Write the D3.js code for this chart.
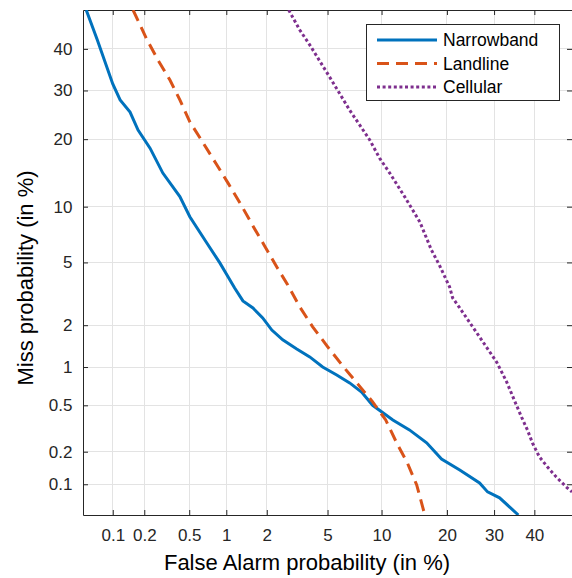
<!DOCTYPE html>
<html>
<head>
<meta charset="utf-8">
<script src="https://cdn.jsdelivr.net/npm/d3@7"></script>
<style>
  body { margin: 0; background: #fff; }
  svg text { font-family: "Liberation Sans", Arial, Helvetica, sans-serif; }
</style>
</head>
<body>
<div id="chart"></div>
<script>

// tick labels (both axes use the same percentages)
var tickValues = [0.1, 0.2, 0.5, 1, 2, 5, 10, 20, 30, 40];
var seriesNames = ["Narrowband", "Landline", "Cellular"];

// values, in %
var narrowFA   = [0.054, 0.070, 0.10, 0.118, 0.147, 0.175, 0.226, 0.295, 0.416, 0.506, 0.70, 0.89, 1.01, 1.16, 1.34, 1.59, 1.87, 2.17, 2.58, 3.20, 3.88, 4.67, 5.67, 6.73, 7.84, 8.99, 11.4, 13.7, 16.4, 19.0, 22.5, 26.7, 28.5, 31.3, 35.9];
var narrowMiss = [50, 42.3, 31.5, 27.9, 25.3, 21.7, 18.4, 14.4, 11.2, 8.9, 6.45, 4.97, 4.22, 3.5, 2.9, 2.61, 2.24, 1.85, 1.58, 1.36, 1.19, 1.00, 0.87, 0.755, 0.64, 0.50, 0.378, 0.311, 0.24, 0.172, 0.136, 0.103, 0.0845, 0.074, 0.05];

var landFA   = [0.157, 0.212, 0.267, 0.341, 0.416, 0.506, 0.637, 0.827, 1.03, 1.31, 1.59, 1.93, 2.35, 2.79, 3.35, 4.05, 5.01, 6.14, 7.46, 8.99, 10.5, 11.9, 13.4, 14.8, 16.1];
var landMiss = [50, 42.3, 37.2, 32.4, 27.9, 23.3, 19.7, 15.9, 13.0, 10.1, 7.97, 6.21, 4.70, 3.66, 2.65, 1.95, 1.41, 1.02, 0.742, 0.533, 0.378, 0.24, 0.158, 0.0986, 0.05];

var cellFA   = [2.83, 3.35, 3.88, 5.15, 6.73, 7.65, 8.66, 9.78, 11.0, 13.0, 15.3, 17.2, 18.6, 20.5, 21.1, 22.5, 24.5, 28.2, 30.6, 33.0, 34.9, 36.7, 38.2, 39.5, 41.3, 43.4, 45.8, 48.5, 50];
var cellMiss = [50, 44.8, 41.0, 33.1, 25.7, 22.7, 19.9, 16.7, 14.4, 11.2, 8.36, 5.90, 4.83, 3.56, 3.03, 2.61, 2.10, 1.41, 1.09, 0.77, 0.55, 0.40, 0.311, 0.24, 0.18, 0.146, 0.117, 0.094, 0.0845];

// normal deviate (probit) for the DET axes - Acklam's approximation
function probit(p) {
  var a = [-39.69683028665376, 220.9460984245205, -275.9285104469687, 138.3577518672690, -30.66479806614716, 2.506628277459239];
  var b = [-54.47609879822406, 161.5858368580409, -155.6989798598866, 66.80131188771972, -13.28068155288572];
  var c = [-0.007784894002430293, -0.3223964580411365, -2.400758277161838, -2.549732539343734, 4.374664141464968, 2.938163982698783];
  var d = [0.007784695709041462, 0.3224671290700398, 2.445134137142996, 3.754408661907416];
  var q, r;
  if (p < 0.02425) {
    q = Math.sqrt(-2 * Math.log(p));
    return (((((c[0]*q+c[1])*q+c[2])*q+c[3])*q+c[4])*q+c[5]) / ((((d[0]*q+d[1])*q+d[2])*q+d[3])*q+1);
  } else if (p > 1 - 0.02425) {
    q = Math.sqrt(-2 * Math.log(1 - p));
    return -(((((c[0]*q+c[1])*q+c[2])*q+c[3])*q+c[4])*q+c[5]) / ((((d[0]*q+d[1])*q+d[2])*q+d[3])*q+1);
  }
  q = p - 0.5; r = q * q;
  return (((((a[0]*r+a[1])*r+a[2])*r+a[3])*r+a[4])*r+a[5])*q / (((((b[0]*r+b[1])*r+b[2])*r+b[3])*r+b[4])*r+1);
}

var W = 572, H = 578;
var margin = {left: 83, right: 0, top: 10, bottom: 63};
var width = W - margin.left - margin.right;
var height = H - margin.top - margin.bottom;

var axisColor = "#262626";
var colors = ["#0072BD", "#D95319", "#7E2F8E"];
var dashes = [null, "12,7", "3,2.6"];

// scales work in probit units
var xScale = d3.scaleLinear().domain([probit(0.0005), probit(0.5)]).range([0, width]);
var yScale = d3.scaleLinear().domain([probit(0.0005), probit(0.5)]).range([height, 0]);

var svg = d3.select("#chart").append("svg")
  .attr("width", W)
  .attr("height", H)
  .append("g")
  .attr("transform", "translate(" + margin.left + "," + margin.top + ")");

var tickPos = tickValues.map(function(v) { return probit(v / 100); });
var fmt = function(d, i) { return tickValues[i]; };

// grid
svg.append("g").selectAll("line.gx").data(tickPos).enter().append("line")
  .attr("x1", function(d) { return xScale(d); }).attr("x2", function(d) { return xScale(d); })
  .attr("y1", 0).attr("y2", height)
  .attr("stroke", "#e3e3e3").attr("stroke-width", 1).attr("shape-rendering", "crispEdges");
svg.append("g").selectAll("line.gy").data(tickPos).enter().append("line")
  .attr("y1", function(d) { return yScale(d); }).attr("y2", function(d) { return yScale(d); })
  .attr("x1", 0).attr("x2", width)
  .attr("stroke", "#e3e3e3").attr("stroke-width", 1).attr("shape-rendering", "crispEdges");

// axes
var xAxis = d3.axisBottom(xScale).tickValues(tickPos).tickFormat(fmt).tickSizeInner(-5).tickSizeOuter(0).tickPadding(14);
var yAxis = d3.axisLeft(yScale).tickValues(tickPos).tickFormat(fmt).tickSizeInner(-5).tickSizeOuter(0).tickPadding(14);
var xTop = d3.axisTop(xScale).tickValues(tickPos).tickFormat("").tickSizeInner(-5).tickSizeOuter(0);
var yRight = d3.axisRight(yScale).tickValues(tickPos).tickFormat("").tickSizeInner(-5).tickSizeOuter(0);

var gx = svg.append("g").attr("transform", "translate(0," + height + ")").call(xAxis);
var gy = svg.append("g").call(yAxis);
var gt = svg.append("g").call(xTop);
var gr = svg.append("g").attr("transform", "translate(" + width + ",0)").call(yRight);

[gx, gy, gt, gr].forEach(function(g) {
  g.select(".domain").attr("stroke", axisColor).attr("stroke-width", 1);
  g.selectAll(".tick line").attr("stroke", axisColor);
  g.selectAll(".tick text").attr("fill", axisColor).style("font-size", "17px");
});
gy.selectAll(".tick text").attr("dx", "0.2em");

// curves
var line = d3.line()
  .x(function(d) { return xScale(probit(d[0] / 100)); })
  .y(function(d) { return yScale(probit(d[1] / 100)); });

var series = [
  d3.zip(narrowFA, narrowMiss),
  d3.zip(landFA, landMiss),
  d3.zip(cellFA, cellMiss)
];

svg.append("defs").append("clipPath").attr("id", "clip")
  .append("rect").attr("width", width).attr("height", height);

svg.append("g").attr("clip-path", "url(#clip)")
  .selectAll("path").data(series).enter().append("path")
  .attr("d", line)
  .attr("fill", "none")
  .attr("stroke", function(d, i) { return colors[i]; })
  .attr("stroke-width", 3)
  .attr("stroke-dasharray", function(d, i) { return dashes[i]; });

// legend
var lg = svg.append("g").attr("transform", "translate(" + (366 - margin.left) + "," + (24 - margin.top) + ")");
lg.append("rect").attr("x", 0.5).attr("y", 0.5).attr("width", 193).attr("height", 76)
  .attr("fill", "#fff").attr("stroke", axisColor).attr("stroke-width", 1);
seriesNames.forEach(function(name, i) {
  var yy = 16 + i * 23.5;
  lg.append("line").attr("x1", 11).attr("x2", 71).attr("y1", yy).attr("y2", yy)
    .attr("stroke", colors[i]).attr("stroke-width", 3)
    .attr("stroke-dasharray", dashes[i]);
  lg.append("text").attr("x", 77).attr("y", yy).attr("dy", "0.35em")
    .text(name).style("font-size", "17.5px").attr("fill", "#000");
});

// axis labels
svg.append("text").attr("x", 307 - margin.left).attr("y", height + 55)
  .attr("text-anchor", "middle").style("font-size", "22px").attr("fill", "#000")
  .text("False Alarm probability (in %)");
svg.append("text").attr("transform", "translate(" + (33 - margin.left) + "," + (278 - margin.top) + ") rotate(-90)")
  .attr("text-anchor", "middle").style("font-size", "22px").attr("fill", "#000")
  .text("Miss probability (in %)");

</script>
</body>
</html>
